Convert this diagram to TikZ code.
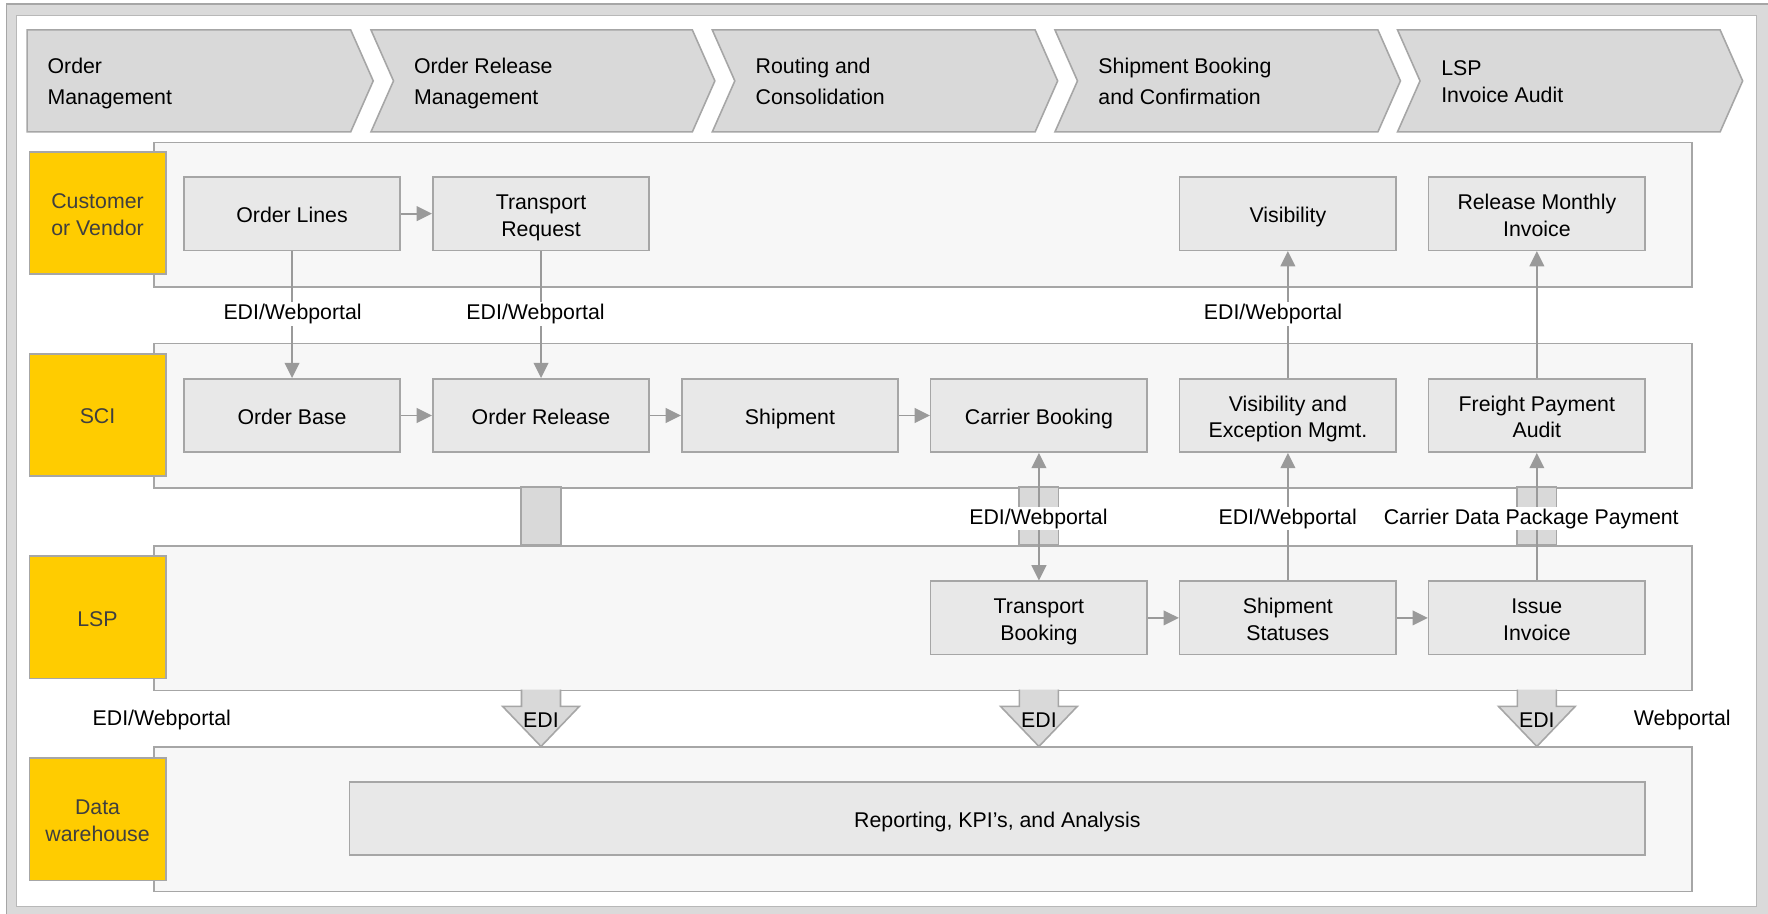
\documentclass[tikz,border=0pt]{standalone}
\usepackage{fontspec}
\setmainfont{Liberation Sans}
\usetikzlibrary{arrows.meta}
\definecolor{bordergray}{HTML}{A6A6A6}
\definecolor{linegray}{HTML}{9A9A9A}
\definecolor{chevgray}{HTML}{D9D9D9}
\definecolor{framegray}{HTML}{DADADA}
\definecolor{lanefill}{HTML}{F7F7F7}
\definecolor{boxfill}{HTML}{E8E8E8}
\definecolor{actorfill}{HTML}{FFCC00}
\definecolor{actortext}{HTML}{3F3F3F}
\newcommand{\dfont}{\fontsize{18.9}{23.7}\selectfont}
\newcommand{\cfont}{\fontsize{18.9}{27.5}\selectfont}
% one-line and two-line texts with fixed strut height and no depth
\newcommand{\txtA}[1]{\rule{0pt}{16pt}\smash{#1}}
\newcommand{\txtB}[2]{\rule{0pt}{16pt}\smash{#1}\\\smash{#2}}
\newcommand{\chevB}[2]{\rule{0pt}{13.6pt}\smash{#1}\\\smash{#2}}
\tikzset{
  chev/.style={draw=bordergray, fill=chevgray, line width=1.4pt, line join=miter},
  chevtext/.style={anchor=west, align=left, inner sep=0pt, font=\cfont},
  lane/.style={draw=bordergray, fill=lanefill, line width=1.4pt, minimum width=1364pt, minimum height=128pt, anchor=north west, inner sep=0pt},
  actor/.style={draw=bordergray, fill=actorfill, line width=1.4pt, minimum width=121pt, minimum height=108.5pt, inner sep=0pt, align=center, text=actortext, font=\dfont},
  stepbox/.style={draw=bordergray, fill=boxfill, line width=1.4pt, minimum width=192pt, minimum height=65pt, inner sep=0pt, align=center, font=\dfont},
  bar/.style={draw=bordergray, fill=chevgray, line width=1.4pt},
  conn/.style={draw=linegray, line width=1.6pt, ->},
  dconn/.style={draw=linegray, line width=1.6pt, <->},
  lbl/.style={fill=white, inner sep=1.5pt, font=\dfont},
  freelbl/.style={inner sep=1pt, font=\dfont},
  blockarrow/.style={draw=bordergray, fill=chevgray, line width=1.4pt, line join=miter},
}
\begin{document}
\begin{tikzpicture}[x=1pt,y=-1pt,>={Triangle[length=13.5pt,width=13pt]}]
\useasboundingbox (0,0) rectangle (1568,810);
\begin{scope}
\clip (0,0) rectangle (1568,810);
\fill[white] (0,0) rectangle (1568,810);
\filldraw[fill=framegray, draw=bordergray, line width=1.2pt] (5.5,3.5) rectangle (1575,818);
\filldraw[fill=white, draw=bordergray!80, line width=0.8pt] (15,13.3) rectangle (1558,804);
\end{scope}

% chevrons
\path[chev] (24,26.5) -- (311,26.5) -- (331,71.75) -- (311,117) -- (24,117) -- cycle;
\path[chev] (329,26.5) -- (614,26.5) -- (634,71.75) -- (614,117) -- (329,117) -- (349,71.75) -- cycle;
\path[chev] (631.7,26.5) -- (918,26.5) -- (938,71.75) -- (918,117) -- (631.7,117) -- (651.7,71.75) -- cycle;
\path[chev] (935.6,26.5) -- (1222,26.5) -- (1242,71.75) -- (1222,117) -- (935.6,117) -- (955.6,71.75) -- cycle;
\path[chev] (1239.4,26.5) -- (1525.5,26.5) -- (1545.5,71.75) -- (1525.5,117) -- (1239.4,117) -- (1259.4,71.75) -- cycle;
\node[chevtext] (p1) at (42,72) {\chevB{Order}{Management}};
\node[chevtext] (p2) at (367,72) {\chevB{Order Release}{Management}};
\node[chevtext] (p3) at (670,72) {\chevB{Routing and}{Consolidation}};
\node[chevtext] (p4) at (974,72) {\chevB{Shipment Booking}{and Confirmation}};
\node[chevtext, font=\dfont] (p5) at (1278,72) {\chevB{LSP}{Invoice Audit}};

% lanes
\node[lane] (lane1) at (136,125.8) {};
\node[lane] (lane2) at (136,304) {};
\node[lane] (lane3) at (136,483.5) {};
\node[lane] (lane4) at (136,662) {};

% bars between SCI and LSP
\path[bar] (462.3,432) rectangle (497.3,483.5);
\path[bar] (903.9,432) rectangle (938.9,483.5);
\path[bar] (1345.5,432) rectangle (1380.5,483.5);

% block arrows to data warehouse
\path[blockarrow] (462.5,611.5) -- (462.5,626.5) -- (445.8,626.5) -- (479.8,662) -- (513.8,626.5) -- (497.1,626.5) -- (497.1,611.5);
\path[blockarrow] (904.1,611.5) -- (904.1,626.5) -- (887.4,626.5) -- (921.4,662) -- (955.4,626.5) -- (938.7,626.5) -- (938.7,611.5);
\path[blockarrow] (1345.7,611.5) -- (1345.7,626.5) -- (1329,626.5) -- (1363,662) -- (1397,626.5) -- (1380.3,626.5) -- (1380.3,611.5);
\node[freelbl] (edi1) at (479.8,638.5) {EDI};
\node[freelbl] (edi2) at (921.4,638.5) {EDI};
\node[freelbl] (edi3) at (1363,638.5) {EDI};

% actors
\node[actor] (a1) at (86.5,189) {\txtB{Customer}{or Vendor}};
\node[actor] (a2) at (86.5,368) {\txtA{SCI}};
\node[actor] (a3) at (86.5,547.5) {\txtA{LSP}};
\node[actor] (a4) at (86.5,726.5) {\txtB{Data}{warehouse}};

% row 1
\node[stepbox] (ol)  at (259,189.5) {\txtA{Order Lines}};
\node[stepbox] (tr)  at (479.8,189.5) {\txtB{Transport}{Request}};
\node[stepbox] (vis) at (1142.2,189.5) {\txtA{Visibility}};
\node[stepbox] (rmi) at (1363,189.5) {\txtB{Release Monthly}{Invoice}};
% row 2
\node[stepbox] (ob)  at (259,368.5) {\txtA{Order Base}};
\node[stepbox] (orl) at (479.8,368.5) {\txtA{Order Release}};
\node[stepbox] (sh)  at (700.6,368.5) {\txtA{Shipment}};
\node[stepbox] (cb)  at (921.4,368.5) {\txtA{Carrier Booking}};
\node[stepbox] (vem) at (1142.2,368.5) {\txtB{Visibility and}{Exception Mgmt.}};
\node[stepbox] (fpa) at (1363,368.5) {\txtB{Freight Payment}{Audit}};
% row 3
\node[stepbox] (tb)  at (921.4,548) {\txtB{Transport}{Booking}};
\node[stepbox] (ss)  at (1142.2,548) {\txtB{Shipment}{Statuses}};
\node[stepbox] (ii)  at (1363,548) {\txtB{Issue}{Invoice}};
% row 4
\node[stepbox, minimum width=1149pt] (rep) at (884.5,726) {\txtA{Reporting, KPI’s, and Analysis}};

% connectors
\draw[conn] (ol) -- (tr);
\draw[conn] (ob) -- (orl);
\draw[conn] (orl) -- (sh);
\draw[conn] (sh) -- (cb);
\draw[conn] (tb) -- (ss);
\draw[conn] (ss) -- (ii);
\draw[conn] (ol.south) -- (ob.north);
\draw[conn] (tr.south) -- (orl.north);
\draw[conn] (vem.north) -- (vis.south);
\draw[conn] (fpa.north) -- (rmi.south);
\draw[dconn] (cb.south) -- (tb.north);
\draw[conn] (ss.north) -- (vem.south);
\draw[conn] (ii.north) -- (fpa.south);

% labels
\node[lbl] (l1) at (259.5,278.5) {EDI/Webportal};
\node[lbl] (l2) at (475,278.5) {EDI/Webportal};
\node[lbl] (l3) at (1129,278.5) {EDI/Webportal};
\node[lbl] (l4) at (921,460) {EDI/Webportal};
\node[lbl] (l5) at (1142,460) {EDI/Webportal};
\node[lbl] (l6) at (1358,460) {Carrier Data Package Payment};
\node[freelbl] (l7) at (143.5,638.5) {EDI/Webportal};
\node[freelbl] (l8) at (1492,638.5) {Webportal};
\end{tikzpicture}
\end{document}
